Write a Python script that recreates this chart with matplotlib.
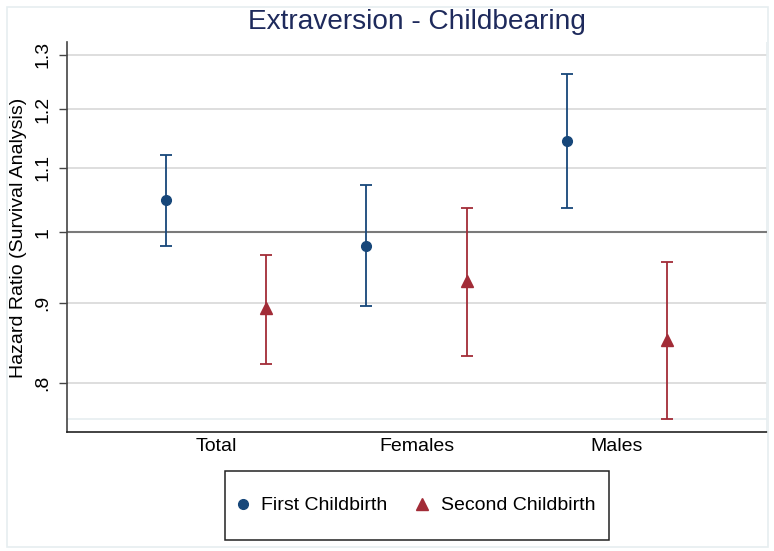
import matplotlib.pyplot as plt
from matplotlib.lines import Line2D
from matplotlib.patches import Rectangle
from matplotlib.ticker import FixedLocator, FixedFormatter, NullLocator

plt.rcParams['font.family'] = ['Liberation Sans', 'DejaVu Sans']

# hazard ratios with 95% CI
groups = ['Total', 'Females', 'Males']
first_hr = [1.048, 0.980, 1.145]
first_lo = [0.980, 0.896, 1.037]
first_hi = [1.121, 1.073, 1.263]
second_hr = [0.894, 0.930, 0.853]
second_lo = [0.823, 0.832, 0.758]
second_hi = [0.967, 1.036, 0.957]
yticks = [0.8, 0.9, 1.0, 1.1, 1.2, 1.3]
ytick_labels = ['.8', '.9', '1', '1.1', '1.2', '1.3']

navy = '#17477a'
red = '#a22c37'
frame_col = '#e6eef0'

W, H = 774, 551
fig = plt.figure(figsize=(W / 100, H / 100), dpi=100)
ax = fig.add_axes([66.7 / W, 1 - 432 / H, (767 - 66.7) / W, (432 - 42) / H])

xpos = range(len(groups))
off = 0.25
x1 = [x - off for x in xpos]
x2 = [x + off for x in xpos]

err1 = [[h - l for h, l in zip(first_hr, first_lo)], [u - h for h, u in zip(first_hr, first_hi)]]
err2 = [[h - l for h, l in zip(second_hr, second_lo)], [u - h for h, u in zip(second_hr, second_hi)]]

ax.errorbar(x1, first_hr, yerr=err1, fmt='o', color=navy, ms=7, elinewidth=1.3,
            capsize=4, capthick=1.3, zorder=5)
ax.errorbar(x2, second_hr, yerr=err2, fmt='^', color=red, ms=8.5, elinewidth=1.3,
            capsize=4, capthick=1.3, zorder=5)

ax.set_yscale('log')
ax.set_ylim(0.744, 1.325)
ax.set_xlim(-0.745, 2.748)

ax.yaxis.set_major_locator(FixedLocator(yticks))
ax.yaxis.set_major_formatter(FixedFormatter(ytick_labels))
ax.yaxis.set_minor_locator(NullLocator())
ax.tick_params(axis='y', labelsize=14, length=6, width=1, color='#444444',
               labelrotation=90, pad=5)
for lab in ax.get_yticklabels():
    lab.set_va('center')

ax.set_xticks(list(xpos))
ax.set_xticklabels(groups)
ax.tick_params(axis='x', labelsize=14, length=0, pad=4)

for v in yticks:
    ax.axhline(v, color='#d8d8d8', lw=1.2, zorder=1)
ax.axhline(1.0, color='#7a7a7a', lw=1.5, zorder=2)
ax.axhline(min(second_lo + first_lo), color=frame_col, lw=1.2, zorder=1)

for s in ['top', 'right']:
    ax.spines[s].set_visible(False)
ax.spines['left'].set_color('#444444')
ax.spines['bottom'].set_color('#222222')
ax.spines['left'].set_linewidth(1.2)
ax.spines['bottom'].set_linewidth(1.2)
ax.axvline(ax.get_xlim()[1], color=frame_col, lw=1.2, zorder=1)

fig.text(19 / W, 1 - 238 / H, 'Hazard Ratio (Survival Analysis)', rotation=90,
         ha='center', va='center', fontsize=14)
fig.text(417 / W, 1 - 29.3 / H, 'Extraversion - Childbearing', ha='center',
         va='baseline', fontsize=20.2, color='#1e2a5c')

# outer graph frame
fig.patches.append(Rectangle((7 / W, 1 - 547 / H), 761 / W, 540 / H, fill=False,
                             edgecolor=frame_col, lw=1.2, transform=fig.transFigure))

handles = [Line2D([], [], marker='o', color=navy, ls='none', ms=7),
           Line2D([], [], marker='^', color=red, ls='none', ms=8)]
fig.legend(handles, ['First Childbirth', 'Second Childbirth'], loc='center',
           bbox_to_anchor=(414 / W, 1 - 505.5 / H), ncol=2, frameon=False,
           fontsize=14, handlelength=1, handletextpad=0.45, columnspacing=1.3)
fig.patches.append(Rectangle((225 / W, 1 - 540 / H), 384 / W, 69 / H, fill=False,
                             edgecolor='#222222', lw=1.1, transform=fig.transFigure))

fig.savefig('out.png', dpi=100)
